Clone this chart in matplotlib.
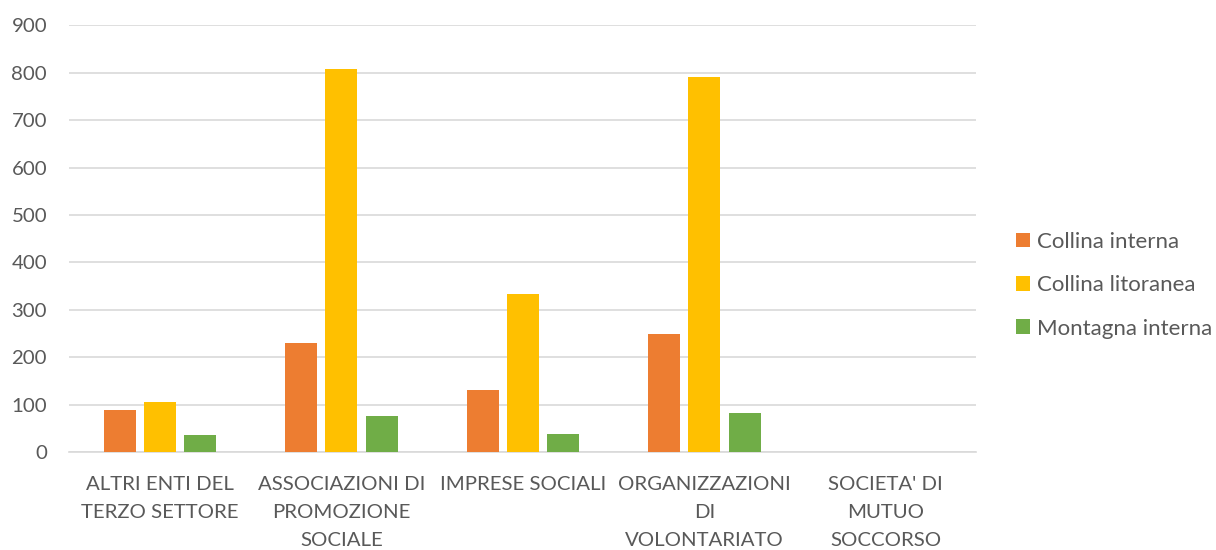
import matplotlib.pyplot as plt
import numpy as np

# categories and series
categories = ["ALTRI ENTI DEL\nTERZO SETTORE", "ASSOCIAZIONI DI\nPROMOZIONE\nSOCIALE",
              "IMPRESE SOCIALI", "ORGANIZZAZIONI\nDI\nVOLONTARIATO",
              "SOCIETA' DI\nMUTUO\nSOCCORSO"]
collina_interna = [88, 231, 130, 249, 0]
collina_litoranea = [106, 807, 333, 792, 0]
montagna_interna = [37, 76, 39, 83, 0]
y_ticks = list(range(0, 1000, 100))

plt.rcParams['font.family'] = ['Lato', 'DejaVu Sans']

fig = plt.figure(figsize=(12.16, 5.5), dpi=100)
ax = fig.add_axes([0.057, 0.178, 0.746, 0.776])

x = np.arange(len(categories))
w = 0.176
step = 0.222
ax.bar(x - step, collina_interna, w, color='#ED7D31', label='Collina interna', zorder=3)
ax.bar(x, collina_litoranea, w, color='#FFC000', label='Collina litoranea', zorder=3)
ax.bar(x + step, montagna_interna, w, color='#70AD47', label='Montagna interna', zorder=3)

ax.set_xlim(-0.5, len(categories) - 0.5)
ax.set_ylim(0, 900)
ax.set_yticks(y_ticks)
ax.set_xticks(x)
ax.set_xticklabels(categories, fontsize=14.7, color='#595959', linespacing=1.8)
ax.tick_params(axis='y', labelsize=14.7, labelcolor='#595959', length=0, pad=16)
ax.tick_params(axis='x', length=0, pad=17)

ax.grid(axis='y', color='#D9D9D9', linewidth=1.2, zorder=0)
for s in ['top', 'right', 'left']:
    ax.spines[s].set_visible(False)
ax.spines['bottom'].set_color('#D9D9D9')
ax.spines['bottom'].set_linewidth(1.2)

leg = ax.legend(loc='center left', bbox_to_anchor=(1.022, 0.391), frameon=False,
                fontsize=16, handlelength=0.63, handleheight=0.63,
                handletextpad=0.3, labelspacing=1.05)
for t in leg.get_texts():
    t.set_color('#595959')

plt.savefig("out.png", dpi=100)
